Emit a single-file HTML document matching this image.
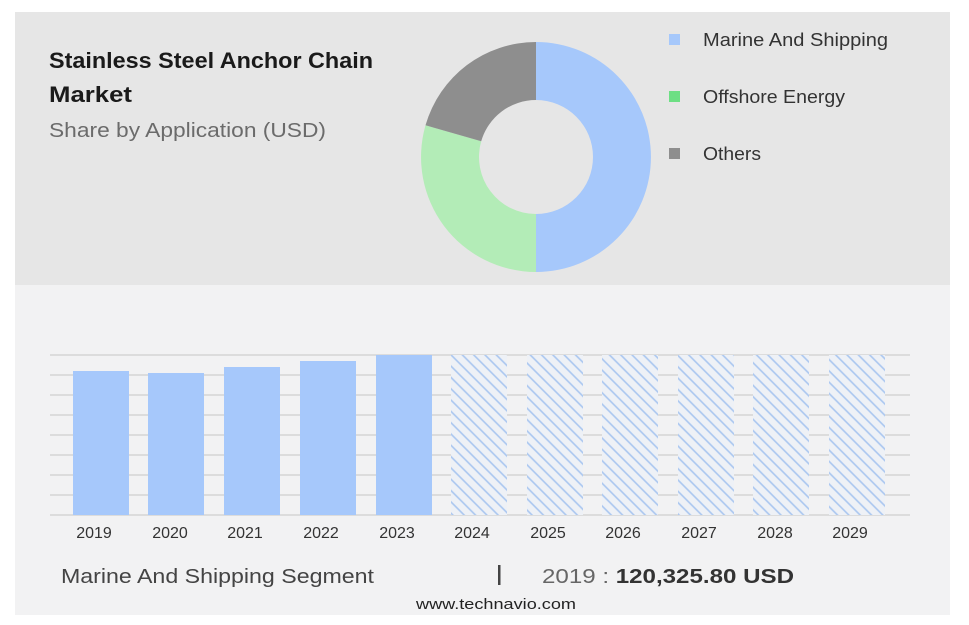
<!DOCTYPE html>
<html><head><meta charset="utf-8"><style>
body{margin:0;width:969px;height:625px;background:#fff;overflow:hidden;font-family:"Liberation Sans",sans-serif}
</style></head><body>
<svg width="969" height="625" xmlns="http://www.w3.org/2000/svg" style="position:absolute;left:0;top:0">
<defs>
<pattern id="h" patternUnits="userSpaceOnUse" width="8" height="8" patternTransform="rotate(45)">
<rect width="8" height="8" fill="#eef1f6"/>
<line x1="0" y1="4" x2="8" y2="4" stroke="#a9c6f0" stroke-width="1.6"/>
</pattern>
</defs>
<rect x="15" y="12" width="935" height="273" fill="#e6e6e6"/>
<rect x="15" y="285" width="935" height="330" fill="#f2f2f3"/>
<text x="49" y="68" font-size="22" font-weight="bold" fill="#1a1a1a" textLength="324" lengthAdjust="spacingAndGlyphs">Stainless Steel Anchor Chain</text>
<text x="49" y="102" font-size="22" font-weight="bold" fill="#1a1a1a" textLength="83" lengthAdjust="spacingAndGlyphs">Market</text>
<text x="49" y="137" font-size="20" fill="#6b6b6b" textLength="277" lengthAdjust="spacingAndGlyphs">Share by Application (USD)</text>
<path d="M536 42 A115 115 0 0 1 536 272 L536 214 A57 57 0 0 0 536 100 Z" fill="#a6c8fb"/>
<path d="M536 272 A115 115 0 0 1 425.5 125.3 L481.2 141.3 A57 57 0 0 0 536 214 Z" fill="#b3ecb7"/>
<path d="M425.5 125.3 A115 115 0 0 1 536 42 L536 100 A57 57 0 0 0 481.2 141.3 Z" fill="#8e8e8e"/>
<rect x="669" y="34" width="11" height="11" fill="#a6c8fb"/>
<text x="703" y="46" font-size="18" fill="#333" textLength="185" lengthAdjust="spacingAndGlyphs">Marine And Shipping</text>
<rect x="669" y="91" width="11" height="11" fill="#6ddf84"/>
<text x="703" y="103" font-size="18" fill="#333" textLength="142" lengthAdjust="spacingAndGlyphs">Offshore Energy</text>
<rect x="669" y="148" width="11" height="11" fill="#8e8e8e"/>
<text x="703" y="160" font-size="18" fill="#333" textLength="58" lengthAdjust="spacingAndGlyphs">Others</text>
<g stroke="#cfcfcf" stroke-width="1.3">
<line x1="50" y1="355" x2="910" y2="355"/><line x1="50" y1="375" x2="910" y2="375"/>
<line x1="50" y1="395" x2="910" y2="395"/><line x1="50" y1="415" x2="910" y2="415"/>
<line x1="50" y1="435" x2="910" y2="435"/><line x1="50" y1="455" x2="910" y2="455"/>
<line x1="50" y1="475" x2="910" y2="475"/><line x1="50" y1="495" x2="910" y2="495"/>
<line x1="50" y1="515" x2="910" y2="515"/>
</g>
<g fill="#a6c8fb">
<rect x="73" y="371" width="56" height="144"/>
<rect x="148" y="373" width="56" height="142"/>
<rect x="224" y="367" width="56" height="148"/>
<rect x="300" y="361" width="56" height="154"/>
<rect x="376" y="355" width="56" height="160"/>
</g>
<g fill="url(#h)">
<rect x="451" y="355" width="56" height="160"/>
<rect x="527" y="355" width="56" height="160"/>
<rect x="602" y="355" width="56" height="160"/>
<rect x="678" y="355" width="56" height="160"/>
<rect x="753" y="355" width="56" height="160"/>
<rect x="829" y="355" width="56" height="160"/>
</g>
<g font-size="16" fill="#333" text-anchor="middle">
<text x="94" y="538">2019</text><text x="170" y="538">2020</text><text x="245" y="538">2021</text>
<text x="321" y="538">2022</text><text x="397" y="538">2023</text><text x="472" y="538">2024</text>
<text x="548" y="538">2025</text><text x="623" y="538">2026</text><text x="699" y="538">2027</text>
<text x="775" y="538">2028</text><text x="850" y="538">2029</text>
</g>
<text x="61" y="583" font-size="20" fill="#444" textLength="313" lengthAdjust="spacingAndGlyphs">Marine And Shipping Segment</text>
<rect x="498" y="565" width="2.5" height="20" fill="#444"/>
<text x="542" y="583" font-size="20" fill="#666" textLength="252" lengthAdjust="spacingAndGlyphs">2019 : <tspan font-weight="bold" fill="#333">120,325.80 USD</tspan></text>
<text x="496" y="609" font-size="15" fill="#222" text-anchor="middle" textLength="160" lengthAdjust="spacingAndGlyphs">www.technavio.com</text>
</svg>
</body></html>
